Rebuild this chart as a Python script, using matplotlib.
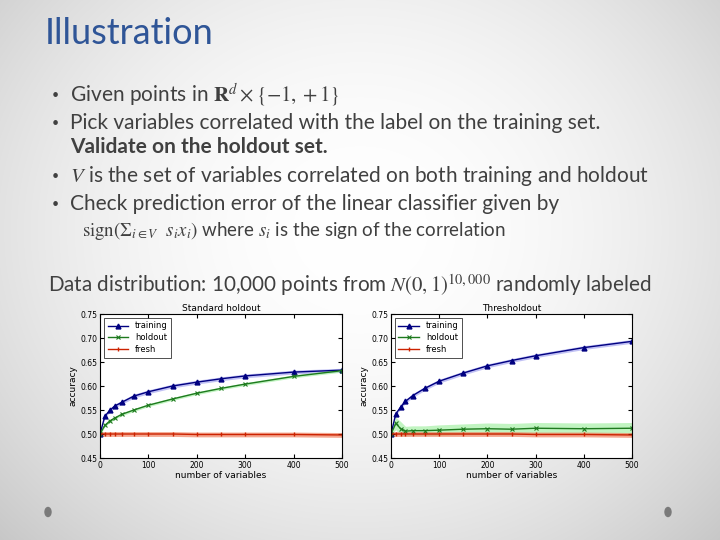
import numpy as np
import matplotlib
matplotlib.use('Agg')
import matplotlib.pyplot as plt
from matplotlib.patches import Ellipse

plt.rcParams.update({
    'font.family': ['Lato', 'DejaVu Sans'],
    'mathtext.fontset': 'stix',
})

# data
n_vars = [0, 10, 20, 30, 45, 70, 100, 150, 200, 250, 300, 400, 500]

std_train = [0.500, 0.537, 0.549, 0.558, 0.566, 0.579, 0.588, 0.600, 0.608, 0.615, 0.621, 0.629, 0.633]
std_hold = [0.500, 0.518, 0.527, 0.533, 0.541, 0.550, 0.560, 0.573, 0.585, 0.595, 0.604, 0.620, 0.632]
std_fresh = [0.500, 0.500, 0.500, 0.500, 0.500, 0.500, 0.500, 0.500, 0.499, 0.499, 0.499, 0.499, 0.498]

thr_train = [0.500, 0.542, 0.556, 0.568, 0.580, 0.595, 0.610, 0.627, 0.642, 0.653, 0.663, 0.680, 0.693]
thr_hold = [0.500, 0.522, 0.511, 0.506, 0.507, 0.507, 0.508, 0.510, 0.511, 0.510, 0.512, 0.511, 0.512]
thr_fresh = [0.500, 0.500, 0.500, 0.500, 0.500, 0.500, 0.500, 0.500, 0.500, 0.500, 0.499, 0.499, 0.498]

# band half-widths
train_err = [0.002, 0.003, 0.004, 0.004, 0.004, 0.004, 0.004, 0.004, 0.004, 0.004, 0.004, 0.004, 0.004]
std_hold_err = [0.002, 0.003, 0.003, 0.003, 0.003, 0.003, 0.003, 0.003, 0.003, 0.003, 0.003, 0.003, 0.003]
thr_hold_err = [0.002, 0.013, 0.015, 0.010, 0.010, 0.010, 0.011, 0.011, 0.012, 0.012, 0.012, 0.012, 0.012]
fresh_err = 0.005

xticks = [0, 100, 200, 300, 400, 500]
yticks = [0.45, 0.50, 0.55, 0.60, 0.65, 0.70, 0.75]

fig = plt.figure(figsize=(7.2, 5.4), dpi=100)

# slide background: soft radial gradient
bg = fig.add_axes([0, 0, 1, 1], zorder=-10)
yy, xx = np.mgrid[0:540, 0:720]
r = np.sqrt(((xx - 360) / 430.0) ** 2 + ((yy - 230) / 380.0) ** 2)
shade = 1.0 - 0.16 * np.clip(r, 0, 1.3) ** 2
bg.imshow(np.dstack([shade, shade, shade]), aspect='auto', extent=[0, 1, 0, 1])
bg.axis('off')

fig.patches.append(Ellipse((48 / 720, 1 - 512 / 540), 6 / 720, 9 / 540,
                           transform=fig.transFigure, color='#7a7a7a'))
fig.patches.append(Ellipse((668 / 720, 1 - 512 / 540), 6 / 720, 9 / 540,
                           transform=fig.transFigure, color='#7a7a7a'))

# title and bullets
txt = '#404040'
fig.text(45 / 720, 1 - 33 / 540, 'Illustration', fontsize=26, color='#2f5597',
         va='center', ha='left')

lines = [
    (95, True, r'Given points in $\mathbf{R}^d \times \{-1,+1\}$', 'normal'),
    (123, True, 'Pick variables correlated with the label on the training set.', 'normal'),
    (147, False, 'Validate on the holdout set.', 'bold'),
    (176, True, r'$V$ is the set of variables correlated on both training and holdout', 'normal'),
    (204, True, 'Check prediction error of the linear classifier given by', 'normal'),
]
for y, bullet, s, w in lines:
    if bullet:
        fig.text(52 / 720, 1 - y / 540, '•', fontsize=9, color=txt, va='center')
    fig.text(70 / 720, 1 - y / 540, s, fontsize=15, color=txt, va='center', fontweight=w)

fig.text(82 / 720, 1 - 231 / 540,
         r'$\mathrm{sign}(\Sigma_{i\in V}\ \ s_i x_i)$ where $s_i$ is the sign of the correlation',
         fontsize=13.5, color=txt, va='center')
fig.text(48 / 720, 1 - 285 / 540,
         r'Data distribution: 10,000 points from $N(0,1)^{10,000}$ randomly labeled',
         fontsize=14.9, color=txt, va='center')


def panel(ax, title, train, hold, fresh, tr_err, ho_err):
    tr, ho, fr = np.array(train), np.array(hold), np.array(fresh)
    tr_err, ho_err = np.array(tr_err), np.array(ho_err)
    ax.set_facecolor('white')
    ax.fill_between(n_vars, tr - tr_err, tr + tr_err, color='#9999ee', alpha=0.6, lw=0)
    ax.fill_between(n_vars, ho - ho_err, ho + ho_err, color='#99ee99', alpha=0.6, lw=0)
    ax.fill_between(n_vars, fr - fresh_err, fr + fresh_err, color='#f08060', alpha=0.7, lw=0)
    ax.plot(n_vars, train, color='#000080', marker='^', ms=3.5, lw=1, label='training')
    ax.plot(n_vars, hold, color='#1e7a1e', marker='x', ms=3.5, lw=1, mew=0.8, label='holdout')
    ax.plot(n_vars, fresh, color='#cc2200', marker='|', ms=3.5, lw=1, label='fresh')
    ax.set_xlim(0, 500)
    ax.set_ylim(0.45, 0.75)
    ax.set_xticks(xticks)
    ax.set_yticks(yticks)
    ax.set_yticklabels(['%.2f' % v for v in yticks])
    ax.tick_params(direction='in', top=True, right=True, labelsize=5.5, length=3, pad=2)
    ax.set_title(title, fontsize=6.5, pad=2, family='DejaVu Sans')
    ax.set_xlabel('number of variables', fontsize=6.5, labelpad=1, family='DejaVu Sans')
    ax.set_ylabel('accuracy', fontsize=6.5, labelpad=2, family='DejaVu Sans')
    for lab in ax.get_xticklabels() + ax.get_yticklabels():
        lab.set_family('DejaVu Sans')
    for sp in ax.spines.values():
        sp.set_linewidth(0.8)
    leg = ax.legend(loc='upper left', frameon=True, fancybox=False,
                    borderpad=0.4, handlelength=2.5, labelspacing=0.35,
                    prop={'family': 'DejaVu Sans', 'size': 6})
    leg.get_frame().set_edgecolor('black')
    leg.get_frame().set_linewidth(0.6)


ax1 = fig.add_axes([100 / 720, 1 - 458 / 540, 242 / 720, 144 / 540])
panel(ax1, 'Standard holdout', std_train, std_hold, std_fresh, train_err, std_hold_err)

ax2 = fig.add_axes([391 / 720, 1 - 458 / 540, 241 / 720, 144 / 540])
panel(ax2, 'Thresholdout', thr_train, thr_hold, thr_fresh, train_err, thr_hold_err)

fig.savefig('out.png', dpi=100)
